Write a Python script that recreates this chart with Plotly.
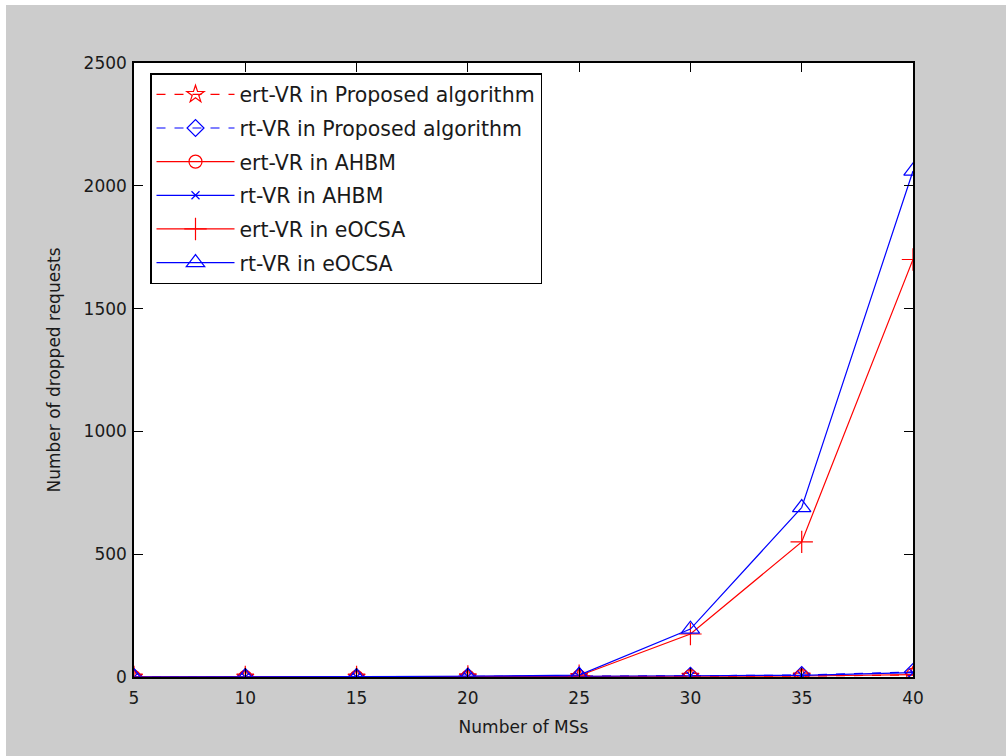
import plotly.graph_objects as go

# Number of mobile stations on the x axis
ms_counts = [5, 10, 15, 20, 25, 30, 35, 40]

# Dropped requests per scheme and traffic class
ert_proposed = [0, 0, 0, 1, 2, 3, 4, 8]
rt_proposed = [0, 0, 0, 2, 3, 5, 8, 20]
ert_ahbm = [0, 0, 0, 1, 2, 3, 4, 10]
rt_ahbm = [0, 0, 0, 2, 3, 5, 7, 18]
ert_eocsa = [0, 0, 0, 2, 5, 175, 550, 1700]
rt_eocsa = [0, 0, 0, 3, 8, 195, 690, 2060]

x_ticks = [5, 10, 15, 20, 25, 30, 35, 40]
y_ticks = [0, 500, 1000, 1500, 2000, 2500]

RED = "#ff0000"
BLUE = "#0000ff"
FONT = "DejaVu Sans, Verdana, sans-serif"
TEXT = "#1a1a1a"

series = [
    ("ert-VR in Proposed algorithm", ert_proposed, RED, "dash", "star-open", 13),
    ("rt-VR in Proposed algorithm", rt_proposed, BLUE, "dash", "diamond-open", 13),
    ("ert-VR in AHBM", ert_ahbm, RED, "solid", "circle-open", 13),
    ("rt-VR in AHBM", rt_ahbm, BLUE, "solid", "x-thin-open", 8),
    ("ert-VR in eOCSA", ert_eocsa, RED, "solid", "cross-thin-open", 16),
    ("rt-VR in eOCSA", rt_eocsa, BLUE, "solid", "triangle-up-open", 16),
]

fig = go.Figure()
for i, (name, vals, color, dash, symbol, size) in enumerate(series):
    fig.add_trace(go.Scatter(
        x=ms_counts, y=vals, name=name, mode="lines+markers",
        legendgroup=f"g{i}",
        line=dict(color=color, width=1.2, dash=dash),
        marker=dict(symbol=symbol, size=size, color=color,
                    line=dict(color=color, width=1.2)),
    ))

axis_common = dict(
    showline=True, linecolor="black", linewidth=1.5, mirror="ticks",
    ticks="inside", ticklen=9, tickcolor="black", tickwidth=1,
    showgrid=False, zeroline=False,
    tickfont=dict(family=FONT, size=17, color=TEXT),
    title_font=dict(family=FONT, size=17, color=TEXT),
)

fig.update_xaxes(range=[5, 40], tickvals=x_ticks, title_text="Number of MSs",
                 title_standoff=14, ticklabelstandoff=5, **axis_common)
fig.update_yaxes(range=[0, 2500], tickvals=y_ticks, title_text="Number of dropped requests",
                 title_standoff=19, ticklabelstandoff=2, **axis_common)

# thin white strips along the top and left of the canvas
W, H = 1006, 756
L, R, T, B = 134, 93, 63, 79
pw, ph = W - L - R, H - T - B


def px(xp):
    return (xp - L) / pw


def py(yp):
    return (H - B - yp) / ph


fig.add_shape(type="rect", xref="paper", yref="paper",
              x0=px(0), x1=px(W), y0=py(5), y1=py(0),
              fillcolor="white", line_width=0, layer="below")
fig.add_shape(type="rect", xref="paper", yref="paper",
              x0=px(0), x1=px(6), y0=py(H), y1=py(0),
              fillcolor="white", line_width=0, layer="below")

fig.update_layout(
    width=W, height=H,
    margin=dict(l=L, r=R, t=T, b=B),
    paper_bgcolor="#cccccc", plot_bgcolor="white",
    font=dict(family=FONT, size=17, color=TEXT),
    legend=dict(
        x=px(150), y=py(73), xanchor="left", yanchor="top",
        bgcolor="white", bordercolor="black", borderwidth=1.5,
        font=dict(size=20.5, color=TEXT), itemwidth=78,
        tracegroupgap=4,
    ),
)

fig.write_html("out.html")
